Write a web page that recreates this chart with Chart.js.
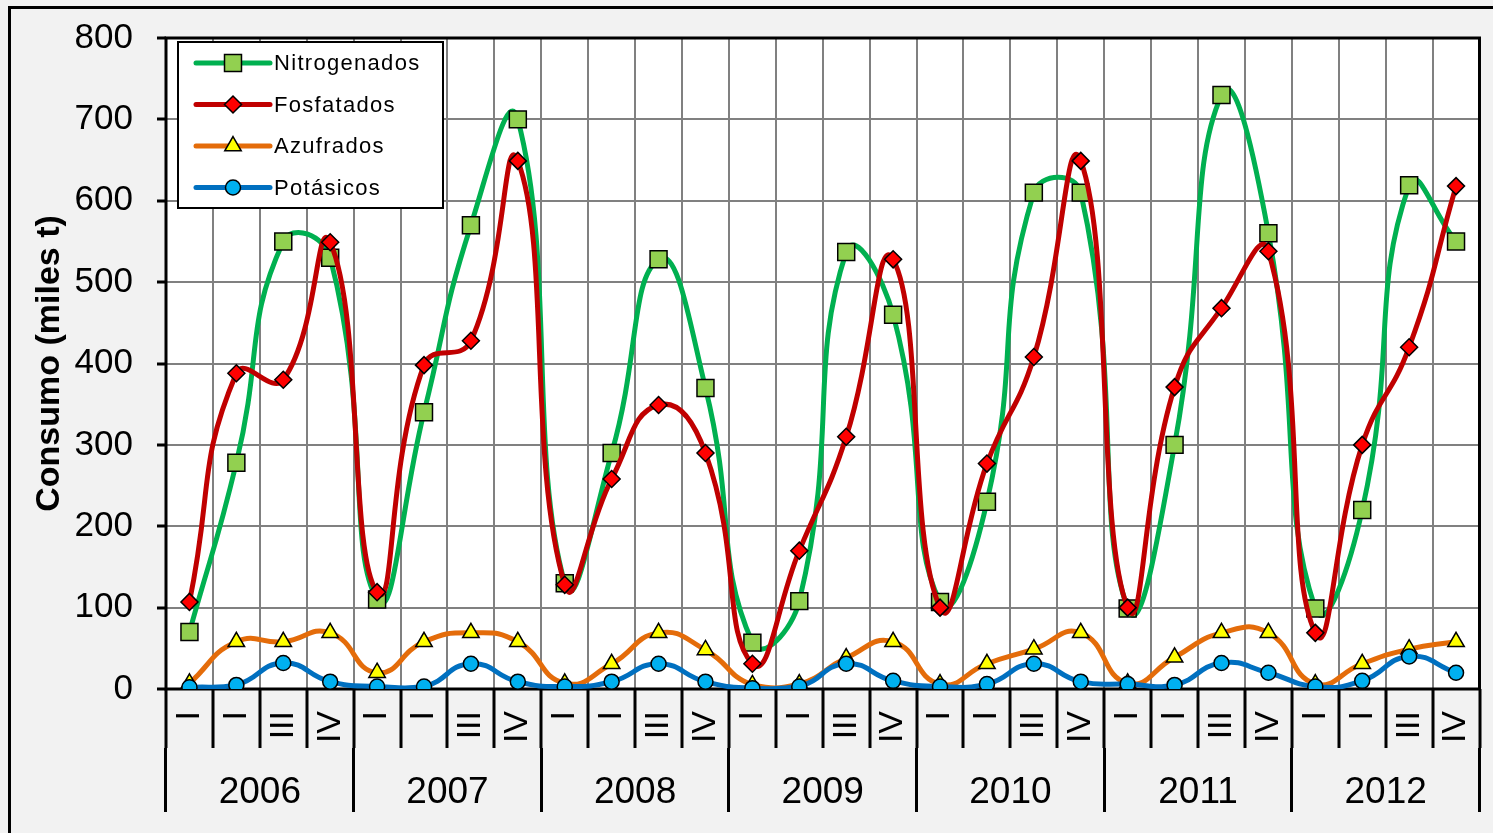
<!DOCTYPE html>
<html>
<head>
<meta charset="utf-8">
<script src="https://cdn.jsdelivr.net/npm/chart.js@4/dist/chart.umd.min.js"></script>
<style>
  html, body { margin: 0; padding: 0; background: #f2f2f2; }
  #wrap { width: 1493px; height: 833px; position: relative; }
</style>
</head>
<body>
<div id="wrap"><canvas id="consumoChart"></canvas></div>
<script>
const years = ['2006', '2007', '2008', '2009', '2010', '2011', '2012'];
// como se ve en el original: el 2º trimestre sale con un solo trazo
const quarters = ['I', 'I', 'III', 'IV'];

const nitrogenados = [70, 278, 550, 530, 110, 340, 570, 700, 130, 290, 528, 370, 57, 108, 537, 460, 107, 230, 610, 610, 99, 300, 730, 560, 99, 220, 619, 550];
const fosfatados = [107, 388, 380, 549, 119, 398, 428, 649, 128, 258, 349, 290, 31, 170, 310, 528, 100, 277, 408, 649, 100, 371, 468, 538, 69, 300, 420, 618];
const azufrados = [7, 58, 58, 69, 20, 58, 69, 58, 7, 31, 69, 48, 5, 6, 38, 58, 6, 31, 49, 69, 7, 39, 69, 69, 6, 31, 49, 58];
const potasicos = [2, 5, 32, 9, 3, 3, 31, 9, 3, 9, 31, 9, 1, 3, 31, 10, 3, 6, 31, 9, 6, 5, 32, 20, 3, 10, 40, 20];

const labels = [];
years.forEach(y => quarters.forEach(q => labels.push(q)));

const FONT = '"Liberation Sans", Arial, sans-serif';
Chart.defaults.font.family = FONT;
Chart.defaults.color = '#000';

function serie(label, data, line, fill, style, radius, order) {
  return {
    label: label,
    data: data,
    borderColor: line,
    borderWidth: 5,
    backgroundColor: fill,
    pointBackgroundColor: fill,
    pointBorderColor: '#000',
    pointBorderWidth: 1.5,
    pointStyle: style,
    pointRadius: radius,
    pointHoverRadius: radius,
    tension: 0.5,
    fill: false,
    order: order
  };
}

// fondo, marco y leyenda dentro del área
const framePlugin = {
  id: 'frame',
  beforeDraw(chart) {
    const ctx = chart.ctx;
    const a = chart.chartArea;
    ctx.save();
    ctx.fillStyle = '#f2f2f2';
    ctx.fillRect(0, 0, chart.width, chart.height);
    ctx.fillStyle = '#fff';
    ctx.fillRect(a.left, a.top, a.right - a.left, a.bottom - a.top);
    ctx.strokeStyle = '#000';
    ctx.lineWidth = 3;
    ctx.strokeRect(9.5, 7.5, chart.width + 20, chart.height + 20);
    ctx.restore();
  },
  beforeDatasetsDraw(chart) {
    const ctx = chart.ctx;
    const a = chart.chartArea;
    ctx.save();
    ctx.strokeStyle = '#000';
    ctx.lineWidth = 3;
    ctx.strokeRect(a.left, a.top, a.right - a.left, a.bottom - a.top);
    ctx.restore();
  },
  afterDatasetsDraw(chart) {
    const ctx = chart.ctx;
    ctx.save();
    ctx.fillStyle = '#fff';
    ctx.fillRect(178, 42, 265, 166);
    ctx.strokeStyle = '#000';
    ctx.lineWidth = 2;
    ctx.strokeRect(178, 42, 265, 166);
    ctx.font = '22px ' + FONT;
    ctx.textBaseline = 'middle';
    chart.data.datasets.forEach((ds, i) => {
      const y = 63 + i * 41.5;
      ctx.strokeStyle = ds.borderColor;
      ctx.lineWidth = 5;
      ctx.lineCap = 'round';
      ctx.beginPath();
      ctx.moveTo(196, y);
      ctx.lineTo(270, y);
      ctx.stroke();
      ctx.fillStyle = ds.pointBackgroundColor;
      ctx.strokeStyle = '#000';
      ctx.lineWidth = 1.5;
      Chart.helpers.drawPoint(ctx, {
        pointStyle: ds.pointStyle,
        radius: ds.pointRadius,
        rotation: 0,
        borderWidth: 1.5
      }, 233, y);
      ctx.fillStyle = '#000';
      ctx.letterSpacing = '1.3px';
      ctx.fillText(ds.label, 274, y + 1);
      ctx.letterSpacing = '0px';
    });
    ctx.restore();
  }
};

const ctx = document.getElementById('consumoChart').getContext('2d');
const consumoChart = new Chart(ctx, {
  type: 'line',
  data: {
    labels: labels,
    datasets: [
      serie('Nitrogenados', nitrogenados, '#00b050', '#92d050', 'rect', 12, 4),
      serie('Fosfatados', fosfatados, '#c00000', '#ff0000', 'rectRot', 8.5, 3),
      serie('Azufrados', azufrados, '#e46c0a', '#ffff00', 'triangle', 9.5, 2),
      serie('Potásicos', potasicos, '#0070c0', '#00b0f0', 'circle', 7.5, 1)
    ]
  },
  options: {
    responsive: true,
    maintainAspectRatio: false,
    animation: false,
    layout: {
      padding: { left: 0, top: 38, right: 11, bottom: 21 }
    },
    plugins: {
      legend: { display: false },
      tooltip: { enabled: false }
    },
    scales: {
      x: {
        type: 'category',
        position: 'bottom',
        offset: true,
        weight: 0,
        grid: {
          offset: true,
          color: '#808080',
          lineWidth: 2,
          tickColor: '#000',
          tickWidth: 3,
          tickLength: 59
        },
        border: { display: false },
        ticks: {
          autoSkip: false,
          minRotation: 90,
          maxRotation: 90,
          padding: -37,
          font: { size: 34 },
          color: '#000'
        },
        afterFit(scale) {
          scale.height = 59;
          scale.paddingLeft = 0;
          scale.paddingRight = 0;
        }
      },
      x2: {
        type: 'category',
        labels: years,
        position: 'bottom',
        offset: true,
        weight: 1,
        grid: {
          offset: true,
          drawOnChartArea: false,
          tickColor: '#000',
          tickWidth: 3,
          tickLength: 64
        },
        border: { display: false },
        ticks: {
          autoSkip: false,
          maxRotation: 0,
          padding: -41,
          font: { size: 37 },
          color: '#000'
        },
        afterFit(scale) {
          scale.height = 64;
          scale.paddingLeft = 0;
          scale.paddingRight = 0;
        }
      },
      y: {
        min: 0,
        max: 800,
        grid: {
          color: '#808080',
          lineWidth: 2,
          tickColor: '#000',
          tickWidth: 3,
          tickLength: 9
        },
        border: { display: false },
        ticks: {
          stepSize: 100,
          padding: 24,
          font: { size: 35 },
          color: '#000'
        },
        title: {
          display: true,
          text: 'Consumo (miles t)',
          font: { size: 34, weight: 'bold' },
          color: '#000',
          padding: { top: 29, bottom: 0 }
        },
        afterFit(scale) {
          scale.width = 166;
          scale.paddingTop = 0;
          scale.paddingBottom = 0;
        }
      }
    }
  },
  plugins: [framePlugin]
});
</script>
</body>
</html>
